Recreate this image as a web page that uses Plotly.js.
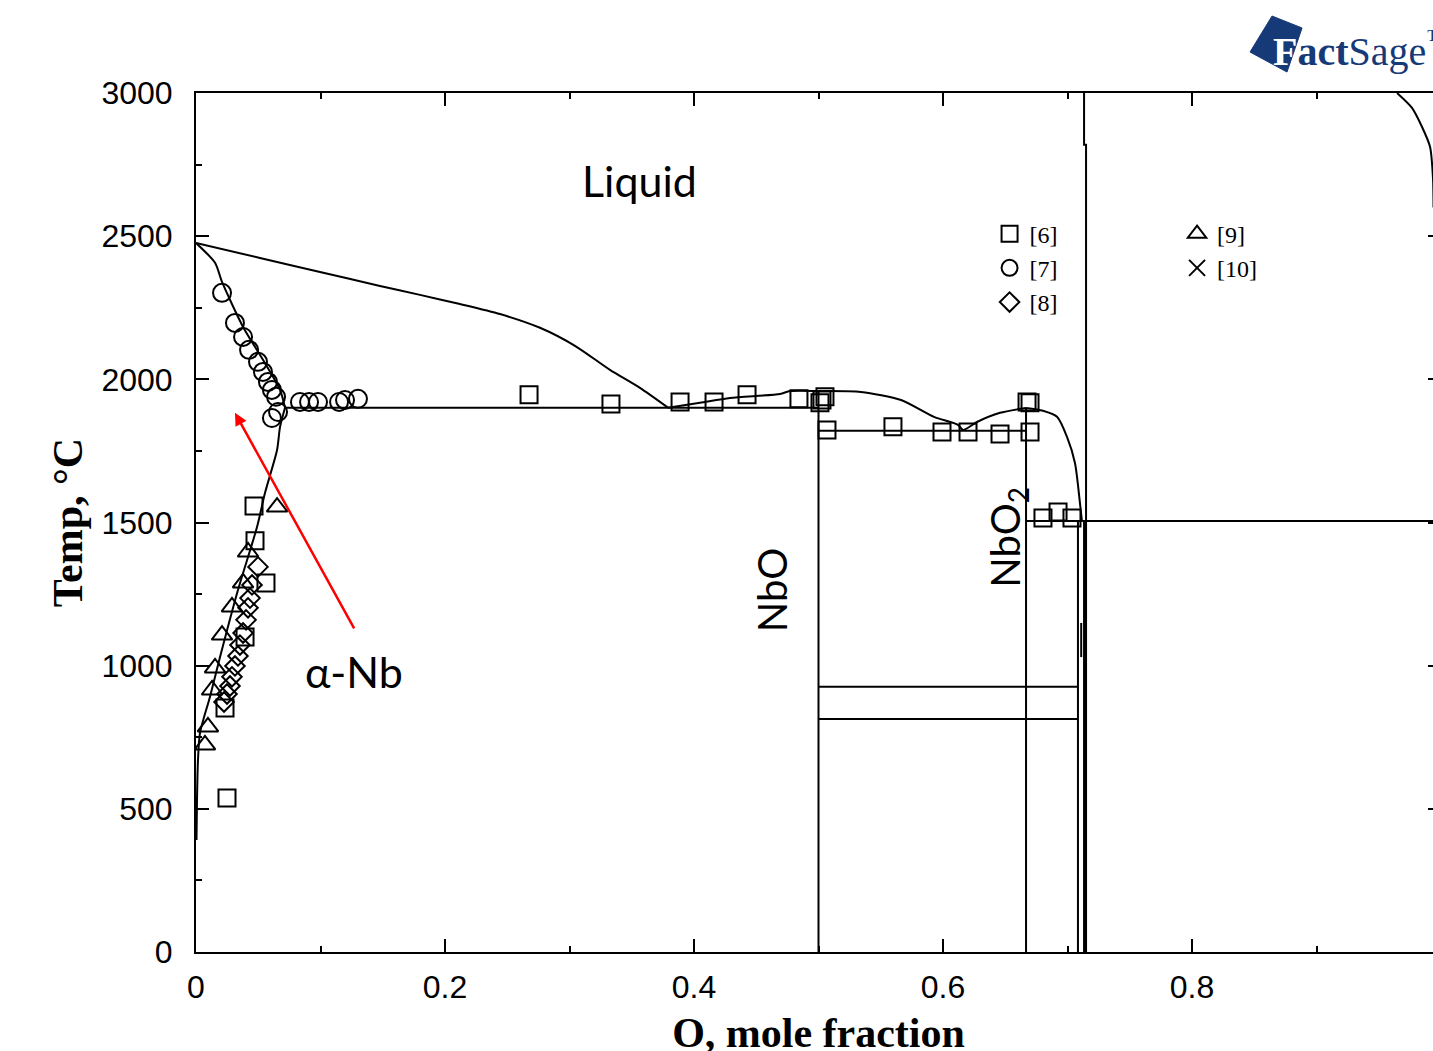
<!DOCTYPE html>
<html>
<head>
<meta charset="utf-8">
<script src="https://cdn.plot.ly/plotly-3.0.1.min.js"></script>
<style>
html,body{margin:0;padding:0;overflow:hidden;background:#fff;}
#chart{width:1445px;height:1056px;}
</style>
</head>
<body>
<div id="chart"></div>
<script>
// ---------- phase boundary data (x = O mole fraction, T in °C) ----------
const liqNbX = [0, 0.0514, 0.0996, 0.1478, 0.1799, 0.2120, 0.2442, 0.2763, 0.3044, 0.3325, 0.3566, 0.3791];
const liqNbT = [2476, 2424, 2375, 2326, 2295, 2263, 2228, 2180, 2117, 2033, 1970, 1901];

const liqNbOaX = [0.3791, 0.4048, 0.4289, 0.4691, 0.4771, 0.5];
const liqNbOaT = [1901, 1918, 1935, 1949, 1959, 1959];

const liqNbObX = [0.5, 0.5341, 0.5663, 0.5928, 0.6120, 0.6161, 0.6273, 0.6458, 0.6618, 0.6667];
const liqNbObT = [1959, 1956, 1928, 1869, 1841, 1823, 1851, 1883, 1897, 1900];

const liqNbO2X = [0.6667, 0.6803, 0.6916, 0.6996, 0.7060, 0.7100, 0.7116];
const liqNbO2T = [1900, 1890, 1869, 1799, 1708, 1568, 1505];

const solidusX = [0, 0.0153, 0.0209, 0.0378, 0.0538, 0.0675, 0.0715];
const solidusT = [2476, 2407, 2340, 2183, 2068, 1963, 1901];

const solvusX = [0.0715, 0.0675, 0.0651, 0.0554, 0.0490, 0.0337, 0.0193, 0.0112, 0.0032, 0.0016, 0.0008, 0.0004];
const solvusT = [1901, 1834, 1753, 1603, 1484, 1264, 1030, 891, 765, 671, 531, 391];

const upperX = [0.7133, 0.7133, 0.7149, 0.7149];
const upperT = [3000, 2819, 2819, 1505];

const rightX = [0.9647, 0.9767, 0.9847, 0.9912, 0.9936, 0.9940];
const rightT = [3000, 2948, 2882, 2812, 2700, 2600];

// invariant / compound lines
const nboX = [0.5, 0.5];          const nboT = [0, 1959];
const nbo2X = [0.6667, 0.6667];   const nbo2T = [0, 1900];
const thinX = [0.7084, 0.7084];   const thinT = [0, 1505];
const shortX = [0.7110, 0.7110];  const shortT = [1030, 1149];
const nb2o5X = [0.7141, 0.7141];  const nb2o5T = [0, 1505];
const eut1X = [0.0715, 0.5];      const eut1T = [1901, 1901];
const eut2X = [0.5, 0.6667];      const eut2T = [1820, 1820];
const eut3X = [0.6667, 1.0];      const eut3T = [1505, 1505];
const tr1X = [0.5, 0.7084];       const tr1T = [926, 926];
const tr2X = [0.5, 0.7084];       const tr2T = [814, 814];

// ---------- experimental points ----------
const ref6X = [0.0249, 0.0233, 0.0394, 0.0562, 0.0474, 0.0466, 0.2675, 0.3333, 0.3888, 0.4161, 0.4426, 0.4843, 0.5012, 0.5028, 0.5052, 0.5068, 0.5598, 0.5992, 0.6201, 0.6458, 0.6699, 0.6675, 0.6699, 0.6803, 0.6924, 0.7036];
const ref6T = [538, 852, 1100, 1289, 1436, 1558, 1946, 1914, 1921, 1921, 1946, 1932, 1918, 1928, 1939, 1823, 1834, 1816, 1816, 1809, 1816, 1921, 1918, 1516, 1537, 1516];

const ref7X = [0.0209, 0.0313, 0.0378, 0.0426, 0.0498, 0.0538, 0.0578, 0.0610, 0.0643, 0.0659, 0.0610, 0.0835, 0.0908, 0.0980, 0.1149, 0.1197, 0.1301];
const ref7T = [2302, 2197, 2148, 2103, 2061, 2026, 1991, 1963, 1939, 1886, 1865, 1921, 1921, 1921, 1921, 1928, 1932];

const ref8X = [0.0498, 0.0450, 0.0434, 0.0418, 0.0402, 0.0378, 0.0353, 0.0337, 0.0313, 0.0289, 0.0273, 0.0249, 0.0225];
const ref8T = [1345, 1282, 1236, 1202, 1160, 1114, 1072, 1034, 999, 961, 929, 901, 873];

const ref9X = [0.0651, 0.0418, 0.0378, 0.0289, 0.0209, 0.0153, 0.0129, 0.0096, 0.0072];
const ref9T = [1554, 1397, 1289, 1205, 1107, 992, 915, 786, 723];

// no [10] points can be distinguished in the picture (legend entry only)
const ref10X = [null];
const ref10T = [null];

const xTicks = [0, 0.2, 0.4, 0.6, 0.8];
const xMinor = [0.1, 0.3, 0.5, 0.7, 0.9];
const yTicks = [0, 500, 1000, 1500, 2000, 2500, 3000];
const yMinor = [250, 750, 1250, 1750, 2250, 2750];

// ---------- traces ----------
function line(x, y, w, shape) {
  return {x: x, y: y, type: 'scatter', mode: 'lines', showlegend: false, hoverinfo: 'skip',
          line: {color: '#000', width: w || 2, shape: shape || 'linear', smoothing: 0.7}};
}
const traces = [
  line(liqNbX, liqNbT, 2, 'spline'),
  line(liqNbOaX, liqNbOaT, 2, 'spline'),
  line(liqNbObX, liqNbObT, 2, 'spline'),
  line(liqNbO2X, liqNbO2T, 2, 'spline'),
  line(solidusX, solidusT, 2, 'spline'),
  line(solvusX, solvusT, 2, 'spline'),
  line(upperX, upperT, 2),
  line(rightX, rightT, 2, 'spline'),
  line(nboX, nboT, 2), line(nbo2X, nbo2T, 2), line(thinX, thinT, 2), line(shortX, shortT, 2),
  line(nb2o5X, nb2o5T, 4),
  line(eut1X, eut1T, 2), line(eut2X, eut2T, 2), line(eut3X, eut3T, 2),
  line(tr1X, tr1T, 2), line(tr2X, tr2T, 2)
];
function pts(x, y, name, sym, size, leg) {
  return {x: x, y: y, name: name, type: 'scatter', mode: 'markers', legend: leg, showlegend: true,
          marker: {symbol: sym, size: size, color: '#000', line: {color: '#000', width: 2}}};
}
traces.push(pts(ref6X, ref6T, '[6]', 'square-open', 17, 'legend'));
traces.push(pts(ref7X, ref7T, '[7]', 'circle-open', 18, 'legend'));
traces.push(pts(ref8X, ref8T, '[8]', 'diamond-open', 15, 'legend'));
traces.push(pts(ref9X, ref9T, '[9]', 'triangle-up-open', 18, 'legend2'));
traces.push(pts(ref10X, ref10T, '[10]', 'x-thin-open', 18, 'legend2'));

const tickFont = {family: 'Liberation Sans, Arial, sans-serif', size: 32, color: '#000'};
const titleFont = {family: 'Liberation Serif, Times New Roman, serif', size: 42, color: '#000'};
const labelFont = {family: 'Lato, Noto Sans, sans-serif', size: 43, color: '#000'};
const labelFont2 = {family: 'Lato, Noto Sans, sans-serif', size: 40, color: '#000'};
const legFont = {family: 'Liberation Serif, Times New Roman, serif', size: 24, color: '#000'};

const layout = {
  width: 1445, height: 1056,
  margin: {l: 196, r: 4, t: 93, b: 104},
  paper_bgcolor: '#fff', plot_bgcolor: '#fff',
  showlegend: true,
  legend: {x: 0.6374, y: 0.862, xanchor: 'left', yanchor: 'top', bgcolor: 'rgba(0,0,0,0)', font: legFont, tracegroupgap: 0, itemclick: false},
  legend2: {x: 0.788, y: 0.862, xanchor: 'left', yanchor: 'top', bgcolor: 'rgba(0,0,0,0)', font: legFont, tracegroupgap: 0, itemclick: false},
  xaxis: {
    range: [0, 1], tickvals: xTicks, ticks: 'inside', ticklen: 13, tickwidth: 2, tickcolor: '#000',
    showline: true, linecolor: '#000', linewidth: 2, mirror: 'allticks', showgrid: false, zeroline: false,
    minor: {tickvals: xMinor, ticks: 'inside', ticklen: 6, tickwidth: 2, tickcolor: '#000', showgrid: false},
    tickfont: tickFont, ticklabelstandoff: 6,
    title: {text: '<b>O, mole fraction</b>', font: titleFont, standoff: 22}
  },
  yaxis: {
    range: [0, 3000], tickvals: yTicks, ticks: 'inside', ticklen: 13, tickwidth: 2, tickcolor: '#000',
    showline: true, linecolor: '#000', linewidth: 2, mirror: 'allticks', showgrid: false, zeroline: false,
    minor: {tickvals: yMinor, ticks: 'inside', ticklen: 6, tickwidth: 2, tickcolor: '#000', showgrid: false},
    tickfont: tickFont, ticklabelstandoff: 15,
    title: {text: '<b>Temp, °C</b>', font: {family: titleFont.family, size: 42, color: '#000'}, standoff: 6}
  },
  annotations: [
    {x: 0.3566, y: 2696, text: 'Liquid', showarrow: false, font: labelFont},
    {x: 0.1269, y: 978, text: 'α-Nb', showarrow: false, font: labelFont},
    {x: 0.4627, y: 1264, text: 'NbO', showarrow: false, textangle: -90, font: labelFont2},
    {x: 0.6522, y: 1450, text: 'NbO<sub>2</sub>', showarrow: false, textangle: -90, font: labelFont2},
    {x: 0.0313, y: 1883, text: '', showarrow: true, ax: 120, ay: 217, arrowhead: 2, arrowsize: 1, arrowwidth: 2.5, arrowcolor: '#ff0000', standoff: 0},
    {xref: 'paper', yref: 'paper', x: 0.8634, y: 1.052, xanchor: 'left', yanchor: 'middle', showarrow: false,
     text: '<b><span style="color:#ffffff">F</span>act</b>Sage<sup>™</sup>',
     font: {family: 'Liberation Serif, serif', size: 40, color: '#163a78'}}
  ],
  shapes: [
    {type: 'path', xref: 'paper', yref: 'paper', path: 'M 0.8643 1.0896 L 0.8466 1.0477 L 0.8763 1.0244 L 0.8884 1.0757 Z',
     fillcolor: '#163a78', line: {color: '#163a78', width: 1}, layer: 'below'}
  ]
};

Plotly.newPlot('chart', traces, layout, {displayModeBar: false, staticPlot: true});
</script>
</body>
</html>
